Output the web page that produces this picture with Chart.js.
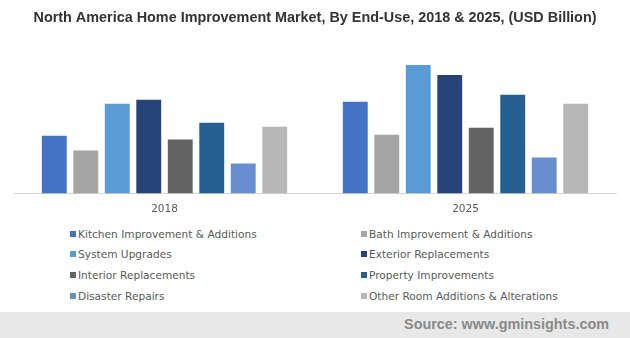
<!DOCTYPE html>
<html>
<head>
<meta charset="utf-8">
<script src="https://cdn.jsdelivr.net/npm/chart.js@4"></script>
<style>
  html, body { margin: 0; padding: 0; background: #fff; }
  #wrap { position: relative; width: 630px; height: 338px; overflow: hidden; }
  #chartBox { position: absolute; left: 0; top: 0; width: 630px; height: 226px; }
  .lg { position: absolute; font-family: "DejaVu Sans", Verdana, sans-serif; font-size: 10.6px; color: #595959; white-space: nowrap; line-height: 12px; }
  .lg i { position: absolute; width: 6px; height: 6px; top: 3px; }
  #footer { position: absolute; left: 0; top: 312px; width: 630px; height: 26px; background: #e8e8e8; }
  #footer span { position: absolute; right: 21px; top: 4px; font-family: "Liberation Sans", Arial, sans-serif; font-weight: bold; font-size: 14.4px; color: #8a8a8a; }
</style>
</head>
<body>
<div id="wrap">
  <div id="chartBox"><canvas id="c"></canvas></div>
  <div id="legend"></div>
  <div id="footer"><span>Source: www.gminsights.com</span></div>
</div>
<script>
const titleText = "North America Home Improvement Market, By End-Use, 2018 & 2025, (USD Billion)";
const years = ["2018", "2025"];
const seriesNames = [
  "Kitchen Improvement & Additions",
  "Bath Improvement & Additions",
  "System Upgrades",
  "Exterior Replacements",
  "Interior Replacements",
  "Property Improvements",
  "Disaster Repairs",
  "Other Room Additions & Alterations"
];
const kitchen  = [5.8, 9.2];
const bath     = [4.3, 5.9];
const system   = [9.0, 12.9];
const exterior = [9.4, 11.9];
const interior = [5.4, 6.6];
const property = [7.1, 9.9];
const disaster = [3.0, 3.6];
const other    = [6.7, 9.0];
const seriesValues = [kitchen, bath, system, exterior, interior, property, disaster, other];
const colors = ["#4472C4", "#A5A5A5", "#5B9BD5", "#264478", "#636363", "#255E91", "#698ED0", "#B7B7B7"];

const datasets = seriesNames.map((name, i) => ({
  label: name,
  data: seriesValues[i],
  backgroundColor: colors[i],
  borderWidth: 0,
  categoryPercentage: 0.837,
  barPercentage: 0.79
}));

new Chart(document.getElementById('c'), {
  type: 'bar',
  data: { labels: years, datasets },
  options: {
    responsive: true,
    maintainAspectRatio: false,
    animation: false,
    layout: { padding: { left: 14, right: 14, top: 0, bottom: 0 } },
    plugins: {
      legend: { display: false },
      tooltip: { enabled: false },
      title: {
        display: true,
        text: titleText,
        color: '#333333',
        font: { family: "'Liberation Sans', Arial, sans-serif", size: 14.4, weight: 'bold' },
        padding: { top: 9, bottom: 27.7 }
      }
    },
    scales: {
      x: {
        grid: { display: false, drawTicks: false },
        border: { display: true, color: '#d4d4d4', width: 1 },
        ticks: { color: '#595959', padding: 10, font: { family: "'DejaVu Sans', Verdana, sans-serif", size: 10.5 } }
      },
      y: {
        display: false,
        min: 0,
        max: 14
      }
    }
  }
});

// HTML legend built from the series arrays (two columns)
const legend = document.getElementById('legend');
const colX = [70, 361];
const rowTop = [227.5, 248, 268.5, 289.5];
seriesNames.forEach((name, i) => {
  const col = i % 2, row = Math.floor(i / 2);
  const d = document.createElement('div');
  d.className = 'lg';
  d.style.left = colX[col] + 'px';
  d.style.top = rowTop[row] + 'px';
  d.style.paddingLeft = '8px';
  d.innerHTML = '<i style="left:0;background:' + colors[i] + '"></i>';
  d.appendChild(document.createTextNode(name));
  legend.appendChild(d);
});
</script>
</body>
</html>
